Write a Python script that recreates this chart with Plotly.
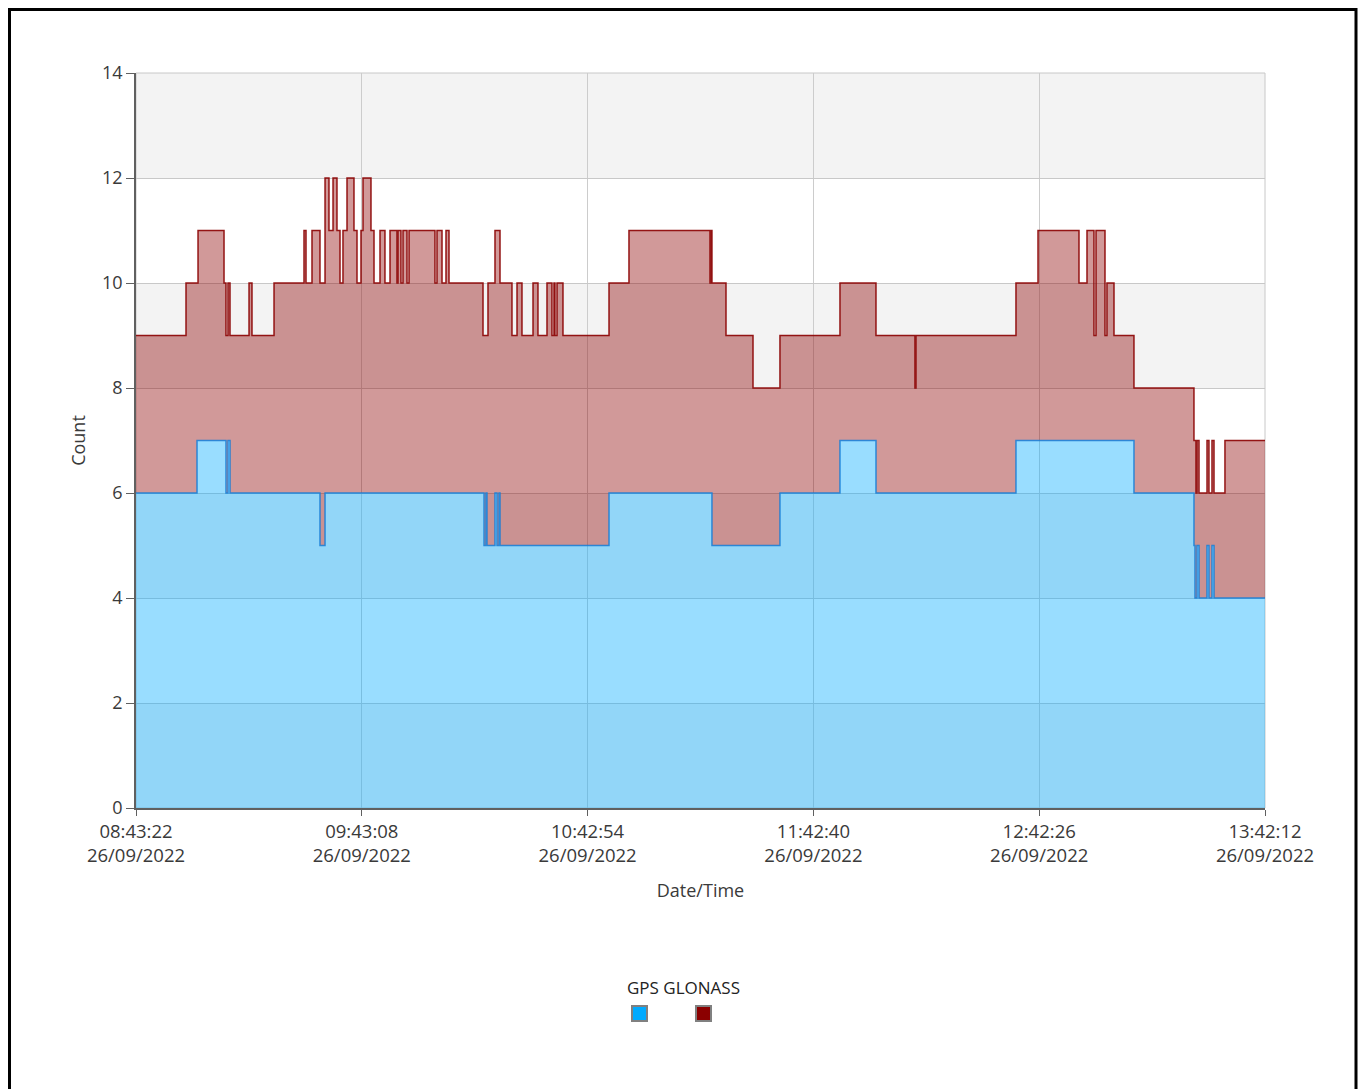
import plotly.graph_objects as go

DATE = "2022-09-26 "

# GPS satellite count (step changes: time, value)
gps_times = ["08:43:22", "08:59:31", "09:07:11", "09:07:43", "09:08:15", "09:32:04", "09:33:24",
             "10:15:29", "10:16:00", "10:16:16", "10:18:23", "10:18:55", "10:19:27", "10:19:43",
             "10:48:34", "11:15:49", "11:33:49", "11:49:42", "11:59:14", "12:36:17", "13:07:31",
             "13:23:24", "13:23:40", "13:24:12", "13:24:44", "13:26:51", "13:27:22", "13:28:10",
             "13:28:42", "13:42:12"]
gps_values = [6, 7, 6, 7, 6, 5, 6,
              5, 6, 5, 6, 5, 6, 5,
              6, 5, 6, 7, 6, 7, 6,
              5, 4, 5, 4, 5, 4, 5,
              4, 4]

# GLONASS satellite count (step changes: time, value)
glonass_times = ["08:43:22", "08:56:36", "08:59:47", "09:06:40", "09:07:11", "09:07:43", "09:08:15",
                 "09:13:17", "09:14:04", "09:19:54", "09:27:50", "09:28:22", "09:29:57", "09:32:04",
                 "09:33:24", "09:34:27", "09:35:31", "09:36:34", "09:37:22", "09:38:09", "09:39:13",
                 "09:41:04", "09:41:52", "09:42:55", "09:43:27", "09:45:34", "09:46:22", "09:47:57",
                 "09:49:16", "09:50:36", "09:52:27", "09:52:43", "09:53:30", "09:54:02", "09:55:06",
                 "09:55:38", "10:02:30", "10:03:02", "10:04:22", "10:05:25", "10:06:13", "10:15:13",
                 "10:16:32", "10:18:23", "10:19:43", "10:22:53", "10:24:13", "10:25:32", "10:28:27",
                 "10:29:46", "10:32:09", "10:33:28", "10:34:00", "10:34:16", "10:34:48", "10:36:23",
                 "10:48:34", "10:53:51", "11:15:18", "11:15:34", "11:15:49", "11:19:32", "11:26:41",
                 "11:33:49", "11:49:42", "11:59:14", "12:09:33", "12:09:49", "12:36:17", "12:42:07",
                 "12:52:58", "12:55:05", "12:56:56", "12:57:28", "12:59:51", "13:00:22", "13:02:14",
                 "13:07:31", "13:23:24", "13:23:56", "13:24:12", "13:24:44", "13:26:51", "13:27:22",
                 "13:28:10", "13:28:42", "13:31:36", "13:42:12"]
glonass_values = [9, 10, 11, 10, 9, 10, 9,
                  10, 9, 10, 11, 10, 11, 10,
                  12, 11, 12, 11, 10, 11, 12,
                  11, 10, 11, 12, 11, 10, 11,
                  10, 11, 10, 11, 10, 11, 10,
                  11, 10, 11, 10, 11, 10, 9,
                  10, 11, 10, 9, 10, 9, 10,
                  9, 10, 9, 10, 9, 10, 9,
                  10, 11, 10, 11, 10, 9, 8,
                  9, 10, 9, 8, 9, 10, 11,
                  10, 11, 9, 11, 9, 10, 9,
                  8, 7, 6, 7, 6, 7, 6,
                  7, 6, 7, 7]

tick_times = ["08:43:22", "09:43:08", "10:42:54", "11:42:40", "12:42:26", "13:42:12"]
tick_date = "26/09/2022"
y_ticks = [0, 2, 4, 6, 8, 10, 12, 14]

# ---- layout geometry (page pixels; the page body adds an 8px offset) ----
OFF = 8
W, H = 1367 - OFF, 1089 - OFF
ML, MT = 136 - OFF, 73 - OFF
PW, PH = 1129, 735
MR, MB = W - ML - PW, H - MT - PH


def px(x):
    return (x - OFF - ML) / PW


def py(y):
    return (MT + PH - (y - OFF)) / PH


FONT = "Open Sans, Noto Sans, sans-serif"
TXT = "#3a3a3a"

fig = go.Figure()
fig.add_trace(go.Scatter(
    x=[DATE + t for t in gps_times], y=gps_values, name="GPS",
    mode="lines", line=dict(shape="hv", color="rgba(20,125,215,0.85)", width=1.5),
    fill="tozeroy", fillcolor="rgba(0,170,255,0.40)", showlegend=False))
fig.add_trace(go.Scatter(
    x=[DATE + t for t in glonass_times], y=glonass_values, name="GLONASS",
    mode="lines", line=dict(shape="hv", color="rgba(139,0,0,0.9)", width=1.5),
    fill="tonexty", fillcolor="rgba(139,0,0,0.40)", showlegend=False))

shapes = []
# alternating background bands
for i in range(0, 14, 4):
    shapes.append(dict(type="rect", xref="paper", yref="y", x0=0, x1=1, y0=i, y1=i + 2,
                       fillcolor="#f3f3f3", line=dict(width=0), layer="below"))
# plot outline (top/right)
shapes.append(dict(type="rect", xref="paper", yref="paper", x0=0, x1=1, y0=0, y1=1,
                   line=dict(color="#c8c8c8", width=1), fillcolor="rgba(0,0,0,0)", layer="below"))
# outer black frame
shapes.append(dict(type="rect", xref="paper", yref="paper", x0=px(OFF + 1.5), x1=px(1356), y0=py(1100),
                   y1=py(OFF + 1.5), line=dict(color="black", width=3), fillcolor="rgba(0,0,0,0)"))
# legend swatches
shapes.append(dict(type="rect", xref="paper", yref="paper", x0=px(632), x1=px(647), y0=py(1021), y1=py(1006),
                   line=dict(color="#808080", width=2), fillcolor="#00aaff"))
shapes.append(dict(type="rect", xref="paper", yref="paper", x0=px(696), x1=px(711), y0=py(1021), y1=py(1006),
                   line=dict(color="#808080", width=2), fillcolor="#8b0000"))

annotations = [dict(text="GPS GLONASS", xref="paper", yref="paper", x=px(683), y=py(987),
                    showarrow=False, font=dict(family=FONT, size=17, color="#222222"),
                    xanchor="center", yanchor="middle")]

fig.update_layout(
    width=W, height=H,
    margin=dict(l=ML, r=MR, t=MT, b=MB),
    paper_bgcolor="white", plot_bgcolor="white",
    font=dict(family=FONT, size=18, color=TXT),
    shapes=shapes, annotations=annotations,
    xaxis=dict(
        range=[DATE + tick_times[0], DATE + tick_times[-1]],
        tickvals=[DATE + t for t in tick_times],
        ticktext=[f"{t}<br>{tick_date}" for t in tick_times],
        tickfont=dict(size=18.5, color=TXT),
        showgrid=True, gridcolor="#cccccc", gridwidth=1,
        showline=True, linecolor="#606060", linewidth=1.5,
        ticks="outside", ticklen=6, tickcolor="#606060",
        title=dict(text="Date/Time", font=dict(size=18, color=TXT), standoff=18),
        zeroline=False,
    ),
    yaxis=dict(
        range=[0, 14], tickvals=y_ticks,
        tickfont=dict(size=18, color=TXT),
        showgrid=True, gridcolor="#c8c8c8", gridwidth=1,
        showline=True, linecolor="#606060", linewidth=1.5,
        ticks="outside", ticklen=8, tickcolor="#606060",
        title=dict(text="Count", font=dict(size=18, color=TXT), standoff=12),
        zeroline=False,
    ),
)

fig.write_html("out.html")
